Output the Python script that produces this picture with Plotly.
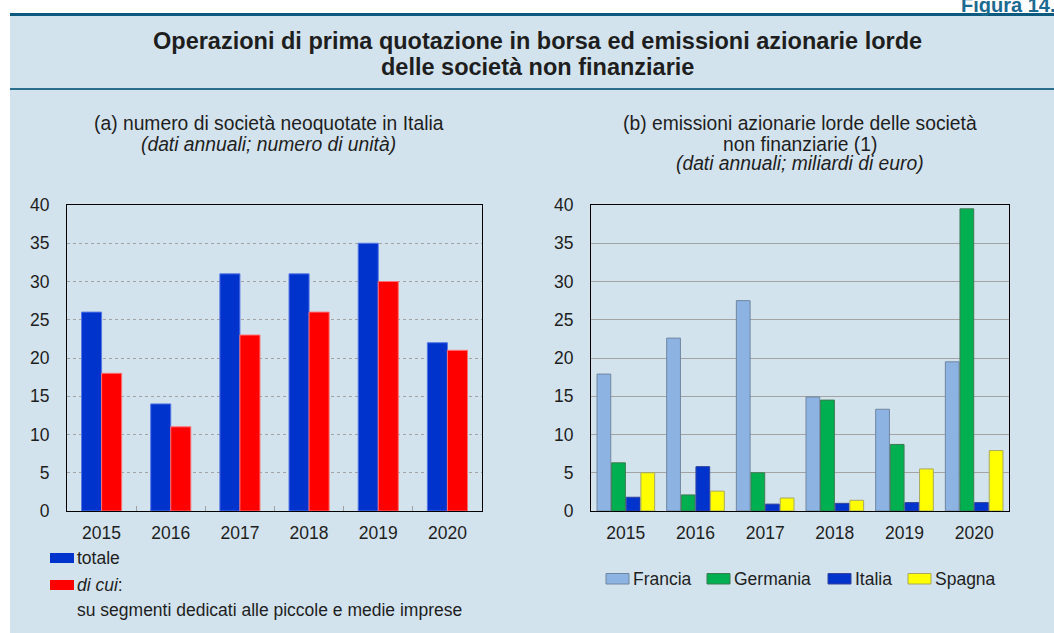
import plotly.graph_objects as go

# --- data -----------------------------------------------------------------
anni = ["2015", "2016", "2017", "2018", "2019", "2020"]

# (a) number of newly listed companies in Italy
totale = [26, 14, 31, 31, 35, 22]
pmi = [18, 11, 23, 26, 30, 21]          # of which on SME-dedicated segments

# (b) gross share issues of non-financial corporations (EUR billion)
francia = [17.9, 22.6, 27.5, 14.9, 13.3, 19.5]
germania = [6.3, 2.1, 5.0, 14.5, 8.7, 39.5]
italia = [1.8, 5.8, 0.9, 1.0, 1.1, 1.1]
spagna = [5.0, 2.6, 1.7, 1.4, 5.5, 7.9]

y_ticks = [0, 5, 10, 15, 20, 25, 30, 35, 40]

# --- page geometry helpers (pixel -> paper) -------------------------------
W, H = 1054, 633


def px(x):
    return x / W


def py(y):
    return 1 - y / H


FONT = "Liberation Sans, Arial, Helvetica, sans-serif"
TXT = "#1e1e1e"
BG = "#d3e3ed"
BLUE = "#0033cc"
RED = "#ff0000"

fig = go.Figure()

# panel (a): paired bars
fig.add_bar(x=anni, y=totale, name="totale", xaxis="x", yaxis="y",
            width=0.29, offset=-0.29,
            marker=dict(color=BLUE, line=dict(color="#5577e6", width=1)))
fig.add_bar(x=anni, y=pmi, name="<i>di cui</i>:", xaxis="x", yaxis="y",
            width=0.29, offset=0.0,
            marker=dict(color=RED, line=dict(color="#ff7070", width=1)))

# panel (b): four countries
series_b = [
    ("Francia", francia, "#8db3e2", "#6f86a0"),
    ("Germania", germania, "#00b050", "#3c7a52"),
    ("Italia", italia, BLUE, "#33449a"),
    ("Spagna", spagna, "#ffff00", "#a8a860"),
]
for name, vals, col, edge in series_b:
    fig.add_bar(x=anni, y=vals, name=name, xaxis="x2", yaxis="y2",
                marker=dict(color=col, line=dict(color=edge, width=1)))

fig.update_traces(showlegend=False, hoverinfo="x+y+name")

ydom = [py(511), py(205)]
tickfont = dict(family=FONT, size=17.5, color=TXT)

common_x = dict(type="category", showline=True, linecolor="black", linewidth=1,
                mirror=True, showgrid=False, tickfont=tickfont, ticklabelstandoff=6)
common_y = dict(range=[0, 40], tickvals=y_ticks, showline=True, linecolor="black",
                linewidth=1, mirror=True, zeroline=False, ticks="",
                tickfont=tickfont, ticklabelstandoff=13)
overlay_y = dict(range=[0, 40], tickvals=y_ticks, showline=False, showgrid=False,
                 zeroline=False, ticks="", side="left", anchor="free",
                 tickfont=tickfont)

fig.update_layout(
    width=W, height=H,
    margin=dict(l=0, r=0, t=0, b=0, autoexpand=False),
    paper_bgcolor="white",
    plot_bgcolor="white",
    barmode="group",
    bargap=0.16,
    bargroupgap=0.06,
    showlegend=False,
    font=dict(family=FONT, color=TXT),
    xaxis=dict(domain=[px(67), px(482)], anchor="y", ticks="inside",
               tickson="boundaries", ticklen=5, tickcolor="#a0a0a0", **common_x),
    yaxis=dict(domain=ydom, anchor="x", showgrid=True, gridcolor="#a3a3a3",
               griddash="dot", **common_y),
    yaxis3=dict(overlaying="y", position=px(520), **overlay_y),
    xaxis2=dict(domain=[px(591), px(1009)], anchor="y2", ticks="", **common_x),
    yaxis2=dict(domain=ydom, anchor="x2", showgrid=True, gridcolor="#a3a3a3",
                **common_y),
    yaxis4=dict(overlaying="y2", position=px(1043), **overlay_y),
)

shapes = [
    # panel background
    dict(type="rect", xref="paper", yref="paper", layer="below",
         x0=px(10), x1=1, y0=0, y1=py(14), fillcolor=BG, line=dict(width=0)),
    # rules framing the main heading
    dict(type="line", xref="paper", yref="paper", x0=px(10), x1=1,
         y0=py(14.5), y1=py(14.5), line=dict(color="#0d5a7e", width=3)),
    dict(type="line", xref="paper", yref="paper", x0=px(10), x1=1,
         y0=py(89), y1=py(89), line=dict(color="#2a6e8e", width=2)),
]


def note(text, x, y, xanchor="center", yanchor="middle", size=17.5, **font):
    return dict(text=text, xref="paper", yref="paper", x=px(x), y=py(y),
                xanchor=xanchor, yanchor=yanchor, showarrow=False,
                font=dict(family=font.get("family", FONT), size=size,
                          color=font.get("color", TXT)))


annotations = [
    note("<b>Figura 14.</b>", 1057, 17.5, xanchor="right", yanchor="bottom",
         size=20, family="Liberation Sans Narrow, " + FONT, color="#1b6a91"),
    note("<b>Operazioni di prima quotazione in borsa ed emissioni azionarie lorde</b>",
         538, 41.5, size=23.5),
    note("<b>delle società non finanziarie</b>", 538, 66.5, size=23.5),
    note("(a) numero di società neoquotate in Italia", 269, 124, size=19.3),
    note("<i>(dati annuali; numero di unità)</i>", 269, 145, size=19.3),
    note("(b) emissioni azionarie lorde delle società", 800, 124, size=19.3),
    note("non finanziarie (1)", 800, 144, size=19.3),
    note("<i>(dati annuali; miliardi di euro)</i>", 800, 164, size=19.3),
]

# legend of panel (a)
legend_a = [("totale", BLUE, 558), ("<i>di cui</i>:", RED, 585)]
for label, col, yc in legend_a:
    shapes.append(dict(type="rect", xref="paper", yref="paper",
                       x0=px(50), x1=px(74), y0=py(yc + 5), y1=py(yc - 5),
                       fillcolor=col, line=dict(width=0)))
    annotations.append(note(label, 75, yc, xanchor="left"))
annotations.append(note("su segmenti dedicati alle piccole e medie imprese",
                        75, 610, xanchor="left"))

# legend of panel (b)
swatch_x = [606, 707, 828, 908]
for (name, _, col, edge), sx in zip(series_b, swatch_x):
    shapes.append(dict(type="rect", xref="paper", yref="paper",
                       x0=px(sx), x1=px(sx + 23), y0=py(584), y1=py(573.5),
                       fillcolor=col, line=dict(color=edge, width=1)))
    annotations.append(note(name, sx + 25, 578.5, xanchor="left"))

fig.update_layout(shapes=shapes, annotations=annotations)

fig.write_html("out.html")
